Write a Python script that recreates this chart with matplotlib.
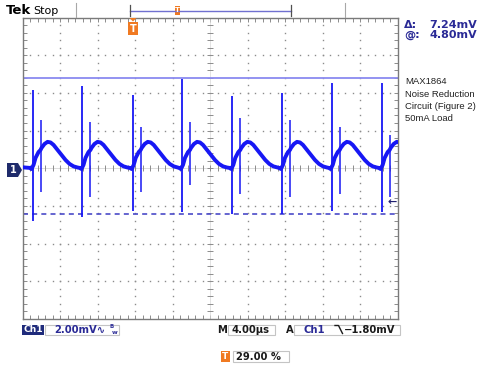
import numpy as np
import matplotlib.pyplot as plt
from matplotlib.patches import Rectangle, Polygon
from matplotlib.lines import Line2D

W, H = 488, 371

# --- данные, считанные с экрана осциллографа ---
# главные выбросы: время (мкс) и пределы (мВ)
SPIKE_T = [1.05, 6.38, 11.74, 17.00, 22.37, 27.67, 32.98, 38.31]
SPIKE_TOP = [4.13, 4.39, 3.87, 4.76, 3.82, 3.97, 4.50, 4.55]
SPIKE_BOT = [-2.82, -2.60, -2.29, -2.34, -2.45, -2.45, -2.29, -2.34]
# вторичные выбросы (через ~0.85 мкс после главного)
SEC_DT = 0.85
SEC_TOP = [2.55, 2.45, 2.18, 2.45, 2.66, 2.55, 2.18, 1.76]
SEC_BOT = [-1.24, -1.55, -1.24, -0.87, -1.39, -1.50, -1.39, -1.50]

# форма пульсации между выбросами: смещение от выброса (мкс) и уровень (мВ)
SHAPE_DT = [-0.32, -0.11, 0.11, 0.32, 0.64, 0.85, 0.96, 1.28, 1.60, 1.92,
            2.24, 2.67, 3.09, 3.52, 3.95, 4.38, 4.80]
SHAPE_MV = [0.02, -0.04, 0.18, 0.55, 0.86, 0.97, 1.08, 1.29, 1.40, 1.37,
            1.24, 0.97, 0.71, 0.44, 0.23, 0.10, 0.04]
START_MV = 0.05

CURSOR_TOP = 4.80
CURSOR_DELTA = 7.24
TRIG_LEVEL = -1.80
VOLTS_DIV = 2.00
TIME_DIV = 4.00
TRIG_POS = 29.00
NOTES = ['MAX1864', 'Noise Reduction', 'Circuit (Figure 2)', '50mA Load']

TRACE = '#1717f4'
NAVY = '#2a2a96'
ORANGE = '#f07a22'
BOXGRAY = '#c4c4c4'


def fx(x):
    return x / W


def fy(y):
    return 1 - y / H


def box(fig, x0, y0, x1, y1, **kw):
    r = Rectangle((fx(x0), fy(y1)), (x1 - x0) / W, (y1 - y0) / H,
                  transform=fig.transFigure, **kw)
    fig.add_artist(r)


def line(fig, xs, ys, **kw):
    fig.add_artist(Line2D([fx(x) for x in xs], [fy(y) for y in ys],
                          transform=fig.transFigure, **kw))


fig = plt.figure(figsize=(W / 100, H / 100), dpi=100)
ax = fig.add_axes([fx(22.7), fy(319), (397.5 - 22.7) / W, (319 - 17.5) / H])
t_max = 10 * TIME_DIV
v_max = 4 * VOLTS_DIV
ax.set_xlim(0, t_max)
ax.set_ylim(-v_max, v_max)

# --- сетка ---
xs_fine = np.arange(0, t_max + 0.01, TIME_DIV / 5)
ys_fine = np.arange(-v_max, v_max + 0.01, VOLTS_DIV / 5)
for gx in np.arange(TIME_DIV, t_max, TIME_DIV):
    if abs(gx - t_max / 2) < 1e-6:
        continue
    ax.plot(np.full_like(ys_fine, gx), ys_fine, ls='none', marker='s',
            ms=1.0, mew=0, color='#8c8c8c')
for gy in np.arange(-v_max + VOLTS_DIV, v_max, VOLTS_DIV):
    if abs(gy) < 1e-6:
        continue
    ax.plot(xs_fine, np.full_like(xs_fine, gy), ls='none', marker='s',
            ms=1.0, mew=0, color='#8c8c8c')
ax.axhline(0, color='#cfcfcf', lw=0.5)
ax.axvline(t_max / 2, color='#d8d8d8', lw=0.5)
ax.plot(xs_fine, np.zeros_like(xs_fine), ls='none', marker='|', ms=4,
        mew=0.7, color='#8c8c8c')
ax.plot(np.full_like(ys_fine, t_max / 2), ys_fine, ls='none', marker='_',
        ms=4, mew=0.7, color='#8c8c8c')

ax.set_xticks(xs_fine)
ax.set_yticks(ys_fine)
ax.tick_params(direction='in', length=3, width=0.6, color='#7a7a7a',
               top=True, right=True, labelbottom=False, labelleft=False)
for sp in ax.spines.values():
    sp.set_color('#7a7a7a')
    sp.set_linewidth(1.0)

# --- курсоры ---
ax.axhline(CURSOR_TOP, color='#8a8af0', lw=1.3, zorder=2)
ax.axhline(CURSOR_TOP - CURSOR_DELTA, color='#4a4ac8', lw=1.2,
           ls=(0, (3, 2.5)), zorder=2)

# --- сигнал ---
t = [0.0]
v = [START_MV]
for ts in SPIKE_T:
    t.extend(ts + d for d in SHAPE_DT)
    v.extend(SHAPE_MV)
ax.plot(t, v, color=TRACE, lw=2.8, solid_joinstyle='round', zorder=4)
ax.vlines(SPIKE_T, SPIKE_BOT, SPIKE_TOP, color=TRACE, lw=1.3, zorder=4)
ax.vlines([ts + SEC_DT for ts in SPIKE_T], SEC_BOT, SEC_TOP, color=TRACE,
          lw=1.1, zorder=4)

# маркер уровня запуска
ax.text(t_max - 0.1, TRIG_LEVEL, '\u2190', ha='right', va='center',
        color='#202070', fontsize=8, fontweight='bold', zorder=5)

# --- шапка ---
fig.text(fx(6), fy(11), 'Tek', fontsize=9.5, fontweight='bold', va='center')
fig.text(fx(33), fy(10.5), 'Stop', fontsize=8, va='center')
line(fig, [76, 76], [3, 17], color='#a8a8a8', lw=0.8)
line(fig, [345, 345], [3, 17], color='#a8a8a8', lw=0.8)
line(fig, [130, 291], [11, 11], color='#7070d0', lw=1.0)
line(fig, [130, 130], [5, 16], color='#505050', lw=0.9)
line(fig, [291, 291], [5, 16], color='#505050', lw=0.9)
box(fig, 174.5, 6, 180, 15, facecolor=ORANGE, edgecolor='none')
fig.text(fx(177.2), fy(10.5), 'T', fontsize=5, color='white',
         fontweight='bold', ha='center', va='center')

# маркер позиции запуска
fig.add_artist(Polygon([(fx(129.5), fy(18)), (fx(136.5), fy(18)),
                        (fx(133), fy(21.5))], closed=True,
                       transform=fig.transFigure, facecolor=ORANGE,
                       edgecolor='none'))
box(fig, 128, 22, 138, 35, facecolor=ORANGE, edgecolor='none')
fig.text(fx(133), fy(28.5), 'T', fontsize=7, color='white',
         fontweight='bold', ha='center', va='center')

# маркер канала 1
fig.add_artist(Polygon([(fx(7), fy(163)), (fx(18), fy(163)), (fx(22), fy(170)),
                        (fx(18), fy(177)), (fx(7), fy(177))], closed=True,
                       transform=fig.transFigure, facecolor='#1f2b6b',
                       edgecolor='none'))
fig.text(fx(13), fy(170), '1', fontsize=7, color='white', fontweight='bold',
         ha='center', va='center')

# --- показания курсоров ---
fig.text(fx(404), fy(25), '\u0394:', fontsize=8, fontweight='bold',
         color=NAVY, va='center')
fig.text(fx(477), fy(25), f'{CURSOR_DELTA:.2f}mV', fontsize=8,
         fontweight='bold', color=NAVY, va='center', ha='right')
fig.text(fx(404), fy(35.5), '@:', fontsize=8, fontweight='bold',
         color=NAVY, va='center')
fig.text(fx(477), fy(35.5), f'{CURSOR_TOP:.2f}mV', fontsize=8,
         fontweight='bold', color=NAVY, va='center', ha='right')

for i, s in enumerate(NOTES):
    fig.text(fx(405), fy(82 + 12.2 * i), s, fontsize=6.8,
             family='Liberation Sans', color='#222222', va='center')

# --- строка состояния ---
yc = 329.7
fs = 7.2
box(fig, 21.7, 325, 44.3, 334.5, facecolor='#1f2b7b', edgecolor='none')
fig.text(fx(33), fy(yc), 'Ch1', fontsize=6.6, color='white',
         fontweight='bold', ha='center', va='center')
box(fig, 44.5, 324.5, 119, 335, facecolor='none', edgecolor=BOXGRAY, lw=0.8)
fig.text(fx(54), fy(yc), f'{VOLTS_DIV:.2f}mV\u223f', fontsize=fs,
         fontweight='bold', color=NAVY, va='center')
fig.text(fx(109), fy(327), 'B', fontsize=4, fontweight='bold', color=NAVY,
         va='center')
fig.text(fx(112), fy(332), 'w', fontsize=4.5, fontweight='bold', color=NAVY,
         va='center')

fig.text(fx(217), fy(yc), 'M', fontsize=fs, fontweight='bold',
         color='#1a1a1a', va='center')
box(fig, 228, 324.5, 275, 335, facecolor='none', edgecolor=BOXGRAY, lw=0.8)
fig.text(fx(231), fy(yc), f'{TIME_DIV:.2f}\u00b5s', fontsize=fs,
         fontweight='bold', color='#1a1a1a', va='center')

fig.text(fx(286), fy(yc), 'A', fontsize=fs, fontweight='bold',
         color='#1a1a1a', va='center')
box(fig, 294, 324.5, 400, 335, facecolor='none', edgecolor=BOXGRAY, lw=0.8)
fig.text(fx(304), fy(yc), 'Ch1', fontsize=fs, fontweight='bold',
         color=NAVY, va='center')
line(fig, [335, 338.5, 342.5], [325.5, 325.5, 333.5], color='#1a1a1a', lw=1.0)
fig.text(fx(344), fy(yc), f'{TRIG_LEVEL:.2f}mV'.replace('-', '\u2212'),
         fontsize=fs, fontweight='bold', color='#1a1a1a', va='center')

box(fig, 220.7, 350.7, 230, 362, facecolor=ORANGE, edgecolor='none')
fig.text(fx(225.4), fy(356.4), 'T', fontsize=6.5, color='white',
         fontweight='bold', ha='center', va='center')
box(fig, 232.7, 350.7, 288.7, 362, facecolor='none', edgecolor=BOXGRAY, lw=0.8)
fig.text(fx(236), fy(356.6), f'{TRIG_POS:.2f} %', fontsize=fs,
         fontweight='bold', color='#1a1a1a', va='center')

fig.savefig('out.png', dpi=100)
